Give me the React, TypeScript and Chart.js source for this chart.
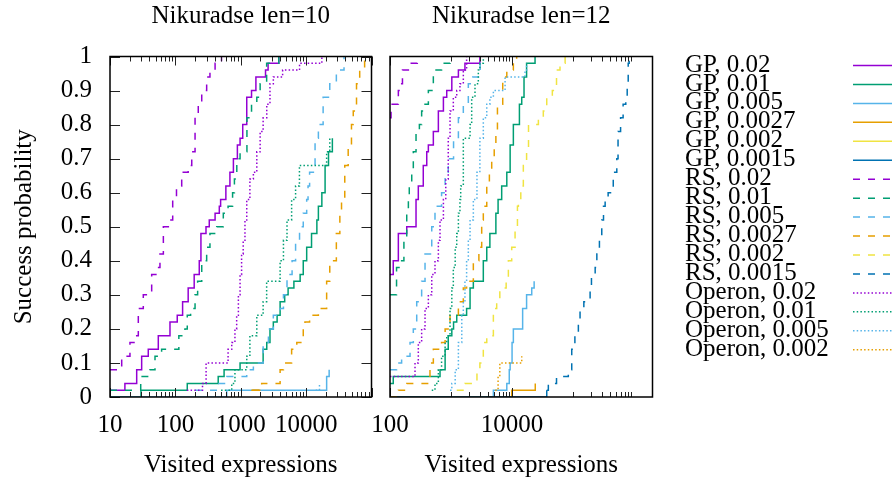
import React, { useEffect, useRef } from 'react';
import { Chart, registerables } from 'chart.js';
Chart.register(...registerables);

type Pt = [number, number];

// ---------- labels ----------
const SERIES_LABELS = [
  'GP, 0.02', 'GP, 0.01', 'GP, 0.005', 'GP, 0.0027', 'GP, 0.002', 'GP, 0.0015',
  'RS, 0.02', 'RS, 0.01', 'RS, 0.005', 'RS, 0.0027', 'RS, 0.002', 'RS, 0.0015',
  'Operon, 0.02', 'Operon, 0.01', 'Operon, 0.005', 'Operon, 0.002',
];
const PANEL_TITLES = ['Nikuradse len=10', 'Nikuradse len=12'];
const X_TITLE = 'Visited expressions';
const Y_TITLE = 'Success probability';
const X_LABELS_LEN10 = [10, 100, 1000, 10000];
const X_LABELS_LEN12 = [100, 10000];
const Y_TICKS = [0, 0.1, 0.2, 0.3, 0.4, 0.5, 0.6, 0.7, 0.8, 0.9, 1];

// ---------- Nikuradse len=10 : [visited expressions, success probability] ----------
const GP_002_L10: Pt[] = [[10,0.02],[16.9,0.04],[25.6,0.08],[30.5,0.12],[38.5,0.14],[54.8,0.18],[82.7,0.22],[106.8,0.24],[129,0.28],[157,0.32],[194,0.36],[232,0.40],[246,0.48],[294,0.50],[330,0.52],[405,0.54],[470,0.56],[492,0.58],[592,0.62],[683,0.66],[772,0.70],[888,0.74],[976,0.76],[1072,0.80],[1235,0.88],[1462,0.90],[1705,0.94],[2393,0.96],[2620,0.98],[3822,1.0]];
const GP_001_L10: Pt[] = [[10,0],[29.8,0.02],[152,0.04],[452,0.06],[556,0.08],[976,0.10],[2200,0.14],[2500,0.16],[2800,0.20],[3150,0.22],[3600,0.24],[4000,0.28],[4700,0.30],[5300,0.32],[6500,0.34],[8100,0.36],[9040,0.40],[10200,0.44],[12100,0.48],[14600,0.52],[15400,0.56],[17400,0.60],[19500,0.68],[22000,0.72],[25200,0.76]];
const GP_0005_L10: Pt[] = [[10,0],[610,0.02],[20600,0.06],[22500,0.08]];
const GP_00027_L10: Pt[] = [[1450,0.02],[2000,0.02]];
const RS_002_L10: Pt[] = [[10,0.08],[15.1,0.12],[20.2,0.16],[24.1,0.18],[27.1,0.26],[32.3,0.30],[43.4,0.36],[51.8,0.38],[58.1,0.42],[65.5,0.50],[78,0.52],[91,0.58],[104,0.62],[125,0.66],[157,0.68],[178,0.72],[200,0.82],[224,0.86],[253,0.90],[301,0.94],[338,0.96],[405,0.98],[508,1.0]];
const RS_001_L10: Pt[] = [[10,0.02],[29.5,0.06],[40.9,0.08],[48.8,0.12],[61.6,0.14],[113,0.18],[140,0.20],[152,0.24],[171,0.26],[200,0.30],[219,0.34],[253,0.40],[301,0.44],[338,0.48],[429,0.50],[541,0.54],[640,0.56],[750,0.60],[800,0.64],[870,0.70],[976,0.72],[1243,0.82],[1462,0.86],[1760,0.88],[1980,0.92],[2490,0.98],[3822,1.0]];
const RS_0005_L10: Pt[] = [[200,0.02],[440,0.04],[610,0.06],[1235,0.08],[1560,0.10],[2200,0.16],[2650,0.20],[3150,0.24],[4000,0.26],[4500,0.30],[5100,0.36],[6100,0.40],[6900,0.46],[7930,0.50],[9040,0.54],[10200,0.58],[10700,0.62],[11300,0.66],[13700,0.76],[15400,0.80],[18200,0.88],[23000,0.92],[29000,0.96],[38000,1.0]];
const RS_00027_L10: Pt[] = [[1500,0.02],[2090,0.04],[4000,0.08],[4500,0.10],[6000,0.14],[7200,0.16],[9040,0.20],[9600,0.22],[11300,0.24],[15400,0.26],[20600,0.34],[23000,0.40],[29000,0.48],[32800,0.54],[34800,0.58],[39000,0.68],[44000,0.74],[49400,0.80],[52600,0.84],[59000,0.92],[66000,0.96],[78500,1.0]];
const OP_002_L10: Pt[] = [[150,0.02],[260,0.04],[295,0.10],[640,0.14],[728,0.16],[815,0.20],[866,0.24],[920,0.30],[976,0.36],[1030,0.42],[1090,0.46],[1160,0.52],[1235,0.58],[1380,0.64],[1560,0.66],[1760,0.72],[1980,0.78],[2200,0.82],[2500,0.86],[2800,0.92],[3150,0.94],[4370,0.96],[7930,0.98],[17400,1.0]];
const OP_001_L10: Pt[] = [[500,0.02],[728,0.04],[815,0.08],[1235,0.12],[1380,0.18],[1760,0.24],[2200,0.28],[2490,0.34],[4000,0.40],[4500,0.46],[5100,0.52],[6000,0.58],[6900,0.62],[7900,0.68],[20600,0.72],[23000,0.76]];
const OP_0005_L10: Pt[] = [[14000,0.02],[16000,0.04]];

// ---------- Nikuradse len=12 ----------
const GP_002_L12: Pt[] = [[100,0.36],[113,0.40],[137,0.48],[188,0.50],[267,0.58],[291,0.62],[351,0.68],[400,0.72],[425,0.74],[513,0.78],[620,0.84],[750,0.88],[850,0.90],[1030,0.94],[1320,0.96],[1690,0.98],[2970,1.0]];
const GP_001_L12: Pt[] = [[100,0.04],[113,0.06],[660,0.08],[800,0.14],[900,0.18],[1030,0.20],[1100,0.22],[1240,0.24],[1800,0.26],[2050,0.32],[2320,0.34],[3380,0.40],[3850,0.44],[4330,0.48],[5430,0.54],[5900,0.58],[6760,0.62],[8200,0.66],[9300,0.74],[10500,0.80],[13200,0.86],[14400,0.88],[15700,0.94],[17300,0.98],[23800,1.0]];
const GP_0005_L12: Pt[] = [[100,0],[4940,0.02],[8200,0.04],[9000,0.08],[9300,0.10],[10000,0.16],[10500,0.20],[14900,0.26],[17300,0.30],[21000,0.32],[23000,0.34]];
const GP_00027_L12: Pt[] = [[100,0],[9870,0.02],[24000,0.04]];
const GP_00015_L12: Pt[] = [[100,0],[37000,0.02]];
const RS_002_L12: Pt[] = [[100,0.82],[104,0.86],[137,0.90],[148,0.92],[160,0.96],[200,0.98],[280,1.0]];
const RS_001_L12: Pt[] = [[100,0.30],[128,0.38],[155,0.40],[169,0.46],[188,0.54],[200,0.58],[207,0.62],[227,0.66],[241,0.72],[267,0.78],[303,0.80],[330,0.84],[375,0.86],[425,0.90],[513,0.96],[700,0.98],[963,1.0]];
const RS_0005_L12: Pt[] = [[100,0.08],[128,0.10],[155,0.12],[213,0.16],[241,0.20],[274,0.28],[330,0.34],[375,0.42],[483,0.50],[546,0.56],[700,0.60],[800,0.66],[900,0.70],[1100,0.76],[1320,0.82],[1590,0.86],[1920,0.92],[2270,0.94],[3000,0.98],[3180,1.0]];
const RS_00027_L12: Pt[] = [[100,0],[137,0.02],[188,0.04],[452,0.10],[513,0.14],[700,0.16],[800,0.20],[963,0.24],[1320,0.28],[1590,0.32],[1800,0.34],[2320,0.40],[2860,0.44],[3180,0.52],[3380,0.56],[3850,0.62],[4250,0.66],[4640,0.70],[5100,0.74],[5430,0.78],[5760,0.86],[7030,0.94],[8200,0.96],[10500,0.98],[11900,1.0]];
const RS_0002_L12: Pt[] = [[1240,0.02],[1690,0.04],[2660,0.08],[2970,0.10],[3380,0.16],[3850,0.18],[4940,0.26],[5600,0.28],[6300,0.32],[8000,0.34],[8700,0.40],[9870,0.44],[11200,0.50],[12250,0.56],[12700,0.58],[13900,0.62],[15300,0.68],[17300,0.72],[18600,0.80],[27000,0.82],[32500,0.84],[37000,0.88],[45700,0.90],[53500,0.96],[61000,0.98],[74000,1.0]];
const RS_00015_L12: Pt[] = [[37000,0.02],[39300,0.04],[53500,0.06],[83500,0.08],[95000,0.14],[107000,0.18],[122000,0.22],[130000,0.26],[150000,0.28],[190000,0.32],[200000,0.36],[230000,0.38],[245000,0.42],[270000,0.46],[295000,0.52],[315000,0.56],[335000,0.58],[375000,0.60],[455000,0.64],[480000,0.66],[520000,0.70],[545000,0.78],[600000,0.82],[660000,0.86],[730000,0.88],[770000,0.92],[800000,0.98],[830000,1.0]];
const OP_002_L12: Pt[] = [[100,0.06],[257,0.10],[291,0.16],[330,0.20],[375,0.26],[425,0.30],[483,0.36],[546,0.40],[620,0.46],[660,0.52],[750,0.58],[820,0.64],[900,0.76],[963,0.84],[1090,0.88],[1240,0.90],[1400,0.92],[1590,0.96],[1800,1.0]];
const OP_001_L12: Pt[] = [[483,0.02],[546,0.04],[620,0.08],[700,0.12],[800,0.16],[850,0.18],[963,0.26],[1030,0.32],[1090,0.38],[1170,0.44],[1240,0.48],[1320,0.54],[1400,0.58],[1440,0.62],[1590,0.76],[2050,0.80],[2180,0.88],[2470,0.92],[2800,0.96],[2970,0.98],[3380,1.0]];
const OP_0005_L12: Pt[] = [[963,0.02],[1030,0.04],[1170,0.08],[1320,0.16],[1500,0.24],[1590,0.28],[1690,0.34],[1800,0.40],[1920,0.46],[2050,0.52],[2320,0.58],[2660,0.66],[2970,0.76],[3380,0.82],[3850,0.86],[4330,0.88],[4940,0.90],[7680,0.94],[16300,0.96],[17300,0.98]];
const OP_0002_L12: Pt[] = [[5300,0.02],[5900,0.06],[6300,0.10],[14400,0.12]];

const LEN10_SERIES: (Pt[] | null)[] = [
  GP_002_L10, GP_001_L10, GP_0005_L10, GP_00027_L10, null, null,
  RS_002_L10, RS_001_L10, RS_0005_L10, RS_00027_L10, null, null,
  OP_002_L10, OP_001_L10, OP_0005_L10, null,
];
const LEN12_SERIES: (Pt[] | null)[] = [
  GP_002_L12, GP_001_L12, GP_0005_L12, GP_00027_L12, null, GP_00015_L12,
  RS_002_L12, RS_001_L12, RS_0005_L12, RS_00027_L12, RS_0002_L12, RS_00015_L12,
  OP_002_L12, OP_001_L12, OP_0005_L12, OP_0002_L12,
];

// ---------- styles ----------
const PALETTE = ['#9400d3', '#009e73', '#56b4e9', '#e69f00', '#f0e442', '#0072b2'];
const SERIES_COLORS = [
  ...PALETTE, ...PALETTE,
  '#9400d3', '#009e73', '#56b4e9', '#e69f00',
];
const SOLID: number[] = [];
const DASHED = [7, 8];
const DOTTED = [1.5, 2.2];
const SERIES_DASH = [
  SOLID, SOLID, SOLID, SOLID, SOLID, SOLID,
  DASHED, DASHED, DASHED, DASHED, DASHED, DASHED,
  DOTTED, DOTTED, DOTTED, DOTTED,
];

const FONT_FAMILY = '"Liberation Serif", "Times New Roman", serif';
const FONT_SIZE = 25;
const FONT = { family: FONT_FAMILY, size: FONT_SIZE };

function decadeTicks(from: number, to: number): number[] {
  const out: number[] = [];
  for (let d = from; d < to; d *= 10) for (let k = 2; k <= 9; k++) out.push(k * d);
  return out;
}

const TICK_MARKS = [
  { major: [10, 100, 1000, 10000, 100000], minor: decadeTicks(10, 100000) },
  {
    major: [100, 10000],
    minor: [1, 2, 3, 4, 5, 6, 7, 8, 9].map((k) => k * 1000).concat([1, 2, 3, 4, 5, 6, 7, 8, 9].map((k) => k * 100000)),
  },
];

const framePlugin = {
  id: 'frame',
  afterDatasetsDraw(chart: any, _args: any, opts: any) {
    const { ctx, chartArea } = chart;
    const { left, right, top, bottom } = chartArea;
    const xs = chart.scales.x;
    const ys = chart.scales.y;
    ctx.save();
    ctx.strokeStyle = '#222';
    ctx.lineWidth = 1;
    const vline = (v: number, len: number) => {
      const px = Math.round(xs.getPixelForValue(v)) + 0.5;
      if (px < left - 1 || px > right + 1) return;
      ctx.beginPath();
      ctx.moveTo(px, bottom);
      ctx.lineTo(px, bottom - len);
      ctx.moveTo(px, top);
      ctx.lineTo(px, top + len);
      ctx.stroke();
    };
    opts.marks.major.forEach((v: number) => vline(v, 9));
    opts.marks.minor.forEach((v: number) => vline(v, 5));
    if (opts.yTicks) {
      Y_TICKS.forEach((v) => {
        const py = Math.round(ys.getPixelForValue(v)) + 0.5;
        ctx.beginPath();
        ctx.moveTo(left, py);
        ctx.lineTo(left + 10, py);
        ctx.moveTo(right, py);
        ctx.lineTo(right - 10, py);
        ctx.stroke();
      });
    }
    ctx.strokeStyle = '#000';
    ctx.lineWidth = 1.5;
    ctx.strokeRect(left, top, right - left, bottom - top);
    ctx.fillStyle = '#000';
    ctx.font = `${FONT_SIZE}px ${FONT_FAMILY}`;
    ctx.textAlign = 'center';
    ctx.textBaseline = 'middle';
    ctx.fillText(opts.title, (left + right) / 2, 16);

    if (opts.legend) {
      SERIES_LABELS.forEach((label, i) => {
        const y = 65 + i * 18.95;
        ctx.textAlign = 'left';
        ctx.fillStyle = '#000';
        ctx.fillText(label, 685, y);
        ctx.beginPath();
        ctx.strokeStyle = SERIES_COLORS[i];
        ctx.lineWidth = 1.5;
        ctx.setLineDash(SERIES_DASH[i]);
        ctx.moveTo(853, y + 0.5);
        ctx.lineTo(892, y + 0.5);
        ctx.stroke();
        ctx.setLineDash([]);
      });
    }
    ctx.restore();
  },
};

function buildConfig(panel: number): any {
  const series = panel === 0 ? LEN10_SERIES : LEN12_SERIES;
  const labels = panel === 0 ? X_LABELS_LEN10 : X_LABELS_LEN12;
  const datasets = SERIES_LABELS.map((label, i) => ({
    label,
    data: (series[i] || []).map(([x, y]) => ({ x, y })),
    borderColor: SERIES_COLORS[i],
    backgroundColor: SERIES_COLORS[i],
    borderDash: SERIES_DASH[i],
    borderWidth: 1.5,
    pointRadius: 0,
    stepped: 'before',
    fill: false,
    order: 100 - i,
  }));
  const yScale: any = {
    type: 'linear',
    min: 0,
    max: 1,
    display: panel === 0,
    afterBuildTicks: (s: any) => {
      s.ticks = Y_TICKS.map((v) => ({ value: v }));
    },
    ticks: {
      font: FONT,
      color: '#000',
      padding: 18,
      callback: (v: any) => String(Math.round(Number(v) * 10) / 10),
    },
    grid: { display: false, drawTicks: false },
    border: { display: false },
    title: { display: true, text: Y_TITLE, font: FONT, color: '#000', padding: { top: 9, bottom: 0 } },
  };
  if (panel === 0) yScale.afterFit = (s: any) => { s.width = 110; };
  return {
    type: 'line',
    data: { datasets },
    plugins: [framePlugin],
    options: {
      responsive: false,
      animation: false,
      devicePixelRatio: 1,
      layout: {
        padding: panel === 0
          ? { left: 0, top: 56.5, right: 894 - 371.5, bottom: 0 }
          : { left: 390, top: 56.5, right: 894 - 652.5, bottom: 0 },
      },
      plugins: {
        legend: { display: false },
        tooltip: { enabled: false },
        frame: { title: PANEL_TITLES[panel], marks: TICK_MARKS[panel], yTicks: panel === 0, legend: panel === 1 },
      },
      scales: {
        x: {
          type: 'logarithmic',
          position: 'bottom',
          min: panel === 0 ? 10 : 100,
          max: panel === 0 ? 100000 : 2000000,
          afterBuildTicks: (s: any) => {
            s.ticks = labels.map((v) => ({ value: v }));
          },
          afterFit: (s: any) => { s.height = 84; },
          ticks: {
            font: FONT,
            color: '#000',
            padding: 13,
            maxRotation: 0,
            autoSkip: false,
            callback: (v: any) => String(v),
          },
          grid: { display: false, drawTicks: false },
          border: { display: false },
          title: { display: true, text: X_TITLE, font: FONT, color: '#000', padding: { top: 0, bottom: 1 } },
        },
        y: yScale,
      },
    },
  };
}

export default function App() {
  const leftRef = useRef<HTMLCanvasElement>(null);
  const rightRef = useRef<HTMLCanvasElement>(null);
  useEffect(() => {
    const c1 = new Chart(leftRef.current as HTMLCanvasElement, buildConfig(0));
    const c2 = new Chart(rightRef.current as HTMLCanvasElement, buildConfig(1));
    return () => {
      c1.destroy();
      c2.destroy();
    };
  }, []);
  const canvasStyle: React.CSSProperties = { position: 'absolute', left: 0, top: 0, width: 894, height: 481 };
  return (
    <div style={{ position: 'absolute', left: 0, top: 0, width: 894, height: 481, background: '#fff' }}>
      <canvas ref={leftRef} width={894} height={481} style={canvasStyle} />
      <canvas ref={rightRef} width={894} height={481} style={canvasStyle} />
    </div>
  );
}
